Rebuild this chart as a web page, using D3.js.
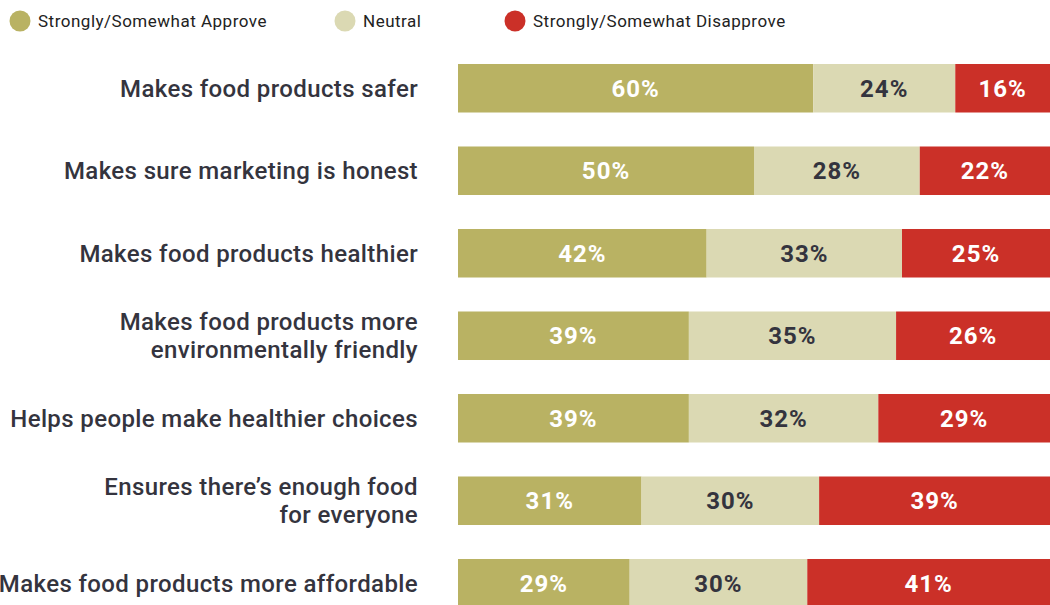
<!DOCTYPE html>
<html>
<head>
<meta charset="utf-8">
<script src="https://cdn.jsdelivr.net/npm/d3@7"></script>
<style>
  html, body { margin: 0; padding: 0; background: #fff; }
  svg { display: block; }
</style>
</head>
<body>
<svg id="chart" width="1050" height="605"></svg>
<script>
// Survey items (one row each) and the share of respondents per answer
const categories = [
  ["Makes food products safer"],
  ["Makes sure marketing is honest"],
  ["Makes food products healthier"],
  ["Makes food products more", "environmentally friendly"],
  ["Helps people make healthier choices"],
  ["Ensures there\u2019s enough food", "for everyone"],
  ["Makes food products more affordable"]
];
const approve    = [60, 50, 42, 39, 39, 31, 29];
const neutral    = [24, 28, 33, 35, 32, 30, 30];
const disapprove = [16, 22, 25, 26, 29, 39, 41];

const seriesNames = ["Strongly/Somewhat Approve", "Neutral", "Strongly/Somewhat Disapprove"];
const seriesColors = ["#b9b263", "#dbd9b3", "#cb3028"];
const labelColors = ["#ffffff", "#34343e", "#ffffff"];

const rows = categories.map((c, i) => ({
  key: i, lines: c,
  Approve: approve[i], Neutral: neutral[i], Disapprove: disapprove[i]
}));
const keys = ["Approve", "Neutral", "Disapprove"];

const svg = d3.select("#chart");
const width = 1050;
const barLeft = 458;
const rowStep = 82.5;

const x = d3.scaleLinear().domain([0, 100]).range([barLeft, width]);
const y = d3.scaleBand()
  .domain(rows.map(d => d.key))
  .range([47, 47 + rowStep * rows.length])
  .paddingInner(0.412)
  .paddingOuter(0.206);

const stacked = d3.stack().keys(keys)(rows);
const font = "Roboto, 'DejaVu Sans', sans-serif";

// stacked bar segments
const layers = svg.append("g").selectAll("g")
  .data(stacked)
  .join("g")
  .attr("fill", (d, i) => seriesColors[i]);

layers.selectAll("rect")
  .data(d => d)
  .join("rect")
  .attr("x", d => x(d[0]))
  .attr("width", d => x(d[1]) - x(d[0]))
  .attr("y", d => y(d.data.key))
  .attr("height", y.bandwidth());

// percentage labels centred in each segment
layers.each(function (layer, li) {
  d3.select(this).selectAll("text")
    .data(layer)
    .join("text")
    .attr("x", d => (x(d[0]) + x(d[1])) / 2)
    .attr("y", d => y(d.data.key) + y.bandwidth() / 2)
    .attr("dy", "0.36em")
    .attr("text-anchor", "middle")
    .attr("fill", labelColors[li])
    .style("font-family", font)
    .style("font-weight", 700)
    .style("font-size", "24px")
    .style("letter-spacing", "1px")
    .text(d => (d[1] - d[0]) + "%");
});

// category labels, right aligned against the bars
const cat = svg.append("g").selectAll("text")
  .data(rows)
  .join("text")
  .attr("x", 418)
  .attr("text-anchor", "end")
  .attr("fill", "#34343e")
  .style("font-family", font)
  .style("font-weight", 500)
  .style("font-size", "24px")
  .style("letter-spacing", "0.38px");

cat.each(function (d) {
  const t = d3.select(this);
  const cy = y(d.key) + y.bandwidth() / 2;
  const lh = 28;
  const y0 = cy - (d.lines.length - 1) * lh / 2;
  d.lines.forEach((line, i) => {
    t.append("tspan")
      .attr("x", 418)
      .attr("y", y0 + i * lh)
      .attr("dy", "0.36em")
      .text(line);
  });
});

// legend
const legendX = [20, 345, 515];
const legend = svg.append("g").selectAll("g")
  .data(seriesNames)
  .join("g")
  .attr("transform", (d, i) => `translate(${legendX[i]},21)`);

legend.append("circle")
  .attr("r", 10.5)
  .attr("fill", (d, i) => seriesColors[i]);

legend.append("text")
  .attr("x", 18)
  .attr("dy", "0.36em")
  .attr("fill", "#222")
  .style("font-family", font)
  .style("font-size", "17px")
  .style("letter-spacing", "0.5px")
  .text(d => d);
</script>
</body>
</html>
